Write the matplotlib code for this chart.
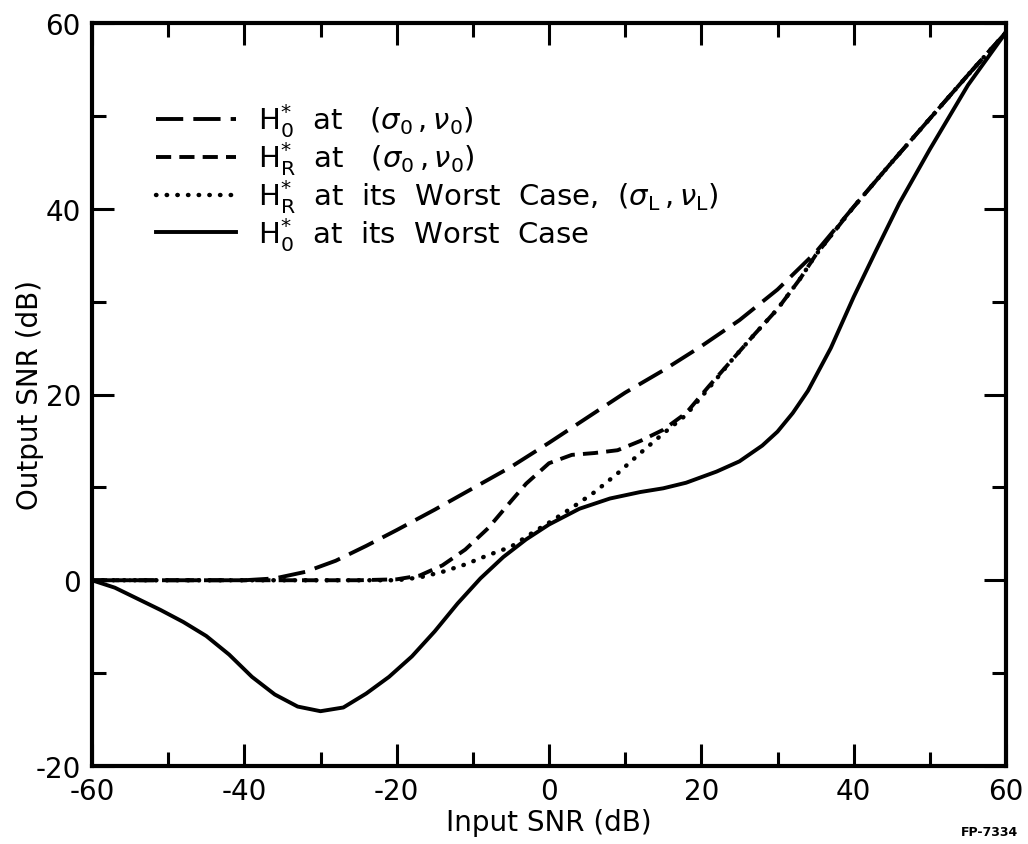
import matplotlib
matplotlib.use("Agg")
import matplotlib.pyplot as plt
from matplotlib.ticker import MultipleLocator

plt.rcParams['font.family'] = ['DejaVu Sans']
plt.rcParams['mathtext.fontset'] = 'dejavusans'
plt.rcParams['axes.unicode_minus'] = False

# ---- data ----
x_h0_nom = [-60, -50, -40, -36, -32, -28, -24, -20, -15, -10, -5, 0, 5, 10, 15, 20, 25, 30, 35, 40, 45, 50, 55, 60]
y_h0_nom = [0, 0, 0, 0.2, 0.9, 2.1, 3.7, 5.4, 7.6, 9.9, 12.2, 14.8, 17.5, 20.2, 22.6, 25.2, 28.0, 31.3, 35.3, 40.2, 45.0, 49.7, 54.4, 59.0]

x_hr_nom = [-60, -40, -25, -20, -17, -14, -11, -8, -5, -3, 0, 3, 6, 9, 12, 15, 18, 21, 24, 27, 30, 33, 35, 40, 45, 50, 55, 60]
y_hr_nom = [0, 0, 0, 0.1, 0.5, 1.6, 3.3, 5.6, 8.5, 10.4, 12.6, 13.5, 13.7, 14.0, 15.0, 16.2, 18.0, 20.9, 23.7, 26.5, 29.2, 32.5, 35.0, 40.2, 45.0, 49.7, 54.4, 59.0]

x_hr_wc = [-60, -20, -17, -14, -11, -8, -5, -2, 0, 3, 6, 9, 12, 15, 18, 21, 24, 27, 30, 33, 35, 40, 45, 50, 55, 60]
y_hr_wc = [0, 0, 0.3, 0.9, 1.7, 2.7, 3.6, 5.2, 6.2, 7.8, 9.5, 11.5, 13.7, 15.8, 17.8, 20.7, 23.7, 26.5, 29.2, 32.5, 35.0, 40.2, 45.0, 49.7, 54.4, 59.0]

x_h0_wc = [-60, -57, -54, -51, -48, -45, -42, -39, -36, -33, -30, -27, -24, -21, -18, -15, -12, -9, -6, -3, 0, 4, 8, 12, 15, 18, 22, 25, 28, 30, 32, 34, 37, 40, 43, 46, 50, 55, 60]
y_h0_wc = [0, -0.8, -2.0, -3.2, -4.5, -6.0, -8.0, -10.4, -12.3, -13.6, -14.1, -13.7, -12.2, -10.4, -8.2, -5.5, -2.5, 0.2, 2.5, 4.4, 6.0, 7.7, 8.8, 9.5, 9.9, 10.5, 11.7, 12.8, 14.5, 16.0, 18.0, 20.4, 25.0, 30.5, 35.6, 40.6, 46.4, 53.3, 59.0]

labels = [
    r'$\mathrm{H}_{0}^{*}$  at   $(\sigma_{0}\,,\nu_{0})$',
    r'$\mathrm{H}_{\mathrm{R}}^{*}$  at   $(\sigma_{0}\,,\nu_{0})$',
    r'$\mathrm{H}_{\mathrm{R}}^{*}$  at  its  Worst  Case,  $(\sigma_{\mathrm{L}}\,,\nu_{\mathrm{L}})$',
    r'$\mathrm{H}_{0}^{*}$  at  its  Worst  Case',
]

fig = plt.figure(figsize=(10.28, 8.45), dpi=100)
ax = fig.add_axes([92/1028, 1 - 767/845, (1006 - 92)/1028, (767 - 24)/845])

lw = 2.8
ax.plot(x_h0_nom, y_h0_nom, color='black', lw=lw, dashes=(7, 2.6), label=labels[0])
ax.plot(x_hr_nom, y_hr_nom, color='black', lw=lw, dashes=(3.9, 2.1), label=labels[1])
ax.plot(x_hr_wc, y_hr_wc, color='black', lw=3.2, dashes=(0.1, 2.3), dash_capstyle='round', label=labels[2])
ax.plot(x_h0_wc, y_h0_wc, color='black', lw=lw, label=labels[3])

ax.set_xlim(-60, 60)
ax.set_ylim(-20, 60)
ax.xaxis.set_major_locator(MultipleLocator(20))
ax.xaxis.set_minor_locator(MultipleLocator(10))
ax.yaxis.set_major_locator(MultipleLocator(20))
ax.yaxis.set_minor_locator(MultipleLocator(10))
ax.tick_params(which='both', direction='in', top=True, right=True, width=2.2, labelsize=20, colors='black')
ax.tick_params(which='major', length=16, pad=8)
ax.tick_params(which='minor', length=10)
for s in ax.spines.values():
    s.set_linewidth(3)

ax.set_xlabel('Input SNR (dB)', fontsize=20)
ax.xaxis.set_label_coords(0.5, -0.075)
ax.set_ylabel('Output SNR (dB)', fontsize=20)
ax.yaxis.set_label_coords(-0.068, 0.5)
ax.yaxis.label.set_va('center')
ax.xaxis.label.set_va('center')

leg = ax.legend(loc='upper left', bbox_to_anchor=(0.07, 0.895), frameon=False, fontsize=21,
                handlelength=2.75, handletextpad=0.75, labelspacing=0.0, borderaxespad=0,
                borderpad=0)

fig.text(1018/1028, 1 - 833/845, 'FP-7334', fontsize=9, fontweight='bold', ha='right', va='center')

fig.savefig('out.png', dpi=100)
